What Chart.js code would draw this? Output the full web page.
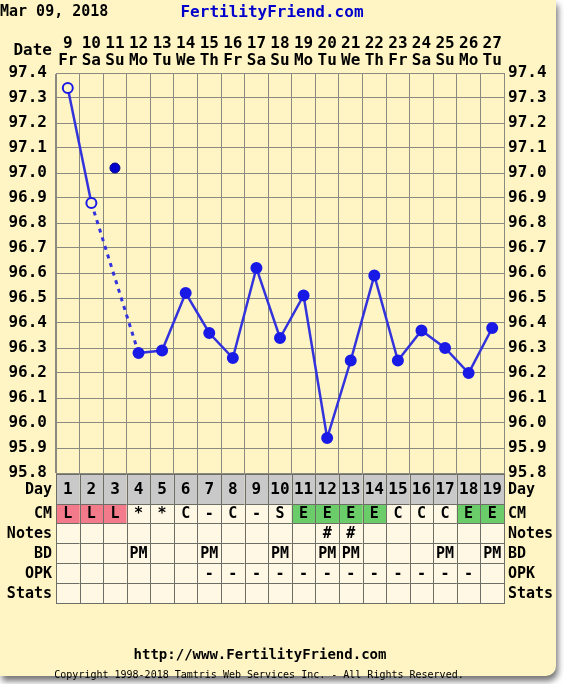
<!DOCTYPE html>
<html>
<head>
<meta charset="utf-8">
<script src="https://cdn.jsdelivr.net/npm/chart.js@4.4.0/dist/chart.umd.min.js"></script>
<style>
  body { margin: 0; background: #ffffff; }
  #fundo {
    position: absolute; left: 0; top: 0; width: 556px; height: 676px;
    background: #fff5c4; border-bottom-right-radius: 10px;
    box-shadow: 2px 5px 6px rgba(0,0,0,0.55);
  }
  #grafico { position: absolute; left: 0; top: 0; }
</style>
</head>
<body>
<div id="fundo"></div>
<canvas id="grafico" width="564" height="684"></canvas>
<script>
// dados
var datas = [9, 10, 11, 12, 13, 14, 15, 16, 17, 18, 19, 20, 21, 22, 23, 24, 25, 26, 27]
var diasSemana = ['Fr','Sa','Su','Mo','Tu','We','Th','Fr','Sa','Su','Mo','Tu','We','Th','Fr','Sa','Su','Mo','Tu']
var diasCiclo = [1, 2, 3, 4, 5, 6, 7, 8, 9, 10, 11, 12, 13, 14, 15, 16, 17, 18, 19]
var temperaturas = [97.34, 96.88, null, 96.28, 96.29, 96.52, 96.36, 96.26, 96.62, 96.34, 96.51, 95.94, 96.25, 96.59, 96.25, 96.37, 96.30, 96.20, 96.38]
var temperaturaDescartada = [null, null, 97.02, null, null, null, null, null, null, null, null, null, null, null, null, null, null, null, null]
var muco = ['L','L','L','*','*','C','-','C','-','S','E','E','E','E','C','C','C','E','E']
var notas = ['','','','','','','','','','','','#','#','','','','','','']
var relacoes = ['','','','PM','','','PM','','','PM','','PM','PM','','','','PM','','PM']
var opk = ['','','','','','','-','-','-','-','-','-','-','-','-','-','-','-','']
var stats = ['','','','','','','','','','','','','','','','','','','']

var abertos = [0, 1]
var azul = '#1a1ae6'
var amarelo = '#fff5c4'
var cinzaGrade = '#8a8a80'

Chart.defaults.font.family = 'DejaVu Sans Mono'
Chart.defaults.font.weight = 'bold'
Chart.defaults.color = '#000'

function corCelulaMuco(v){
    if(v == 'L') return '#f27a8a'
    if(v == 'E') return '#6acd6a'
    return '#fff8e4'
}

// trecho pontilhado: do dia 2 ao dia 4, pulando o dia 3
function trechoPontilhado(c){
    return c.p0DataIndex == 1 || c.p0DataIndex == 2
}

var linhasTabela = [
    {nome: 'Day', topo: 474, altura: 30, valores: diasCiclo},
    {nome: 'CM', topo: 504, altura: 19, valores: muco},
    {nome: 'Notes', topo: 523, altura: 20, valores: notas},
    {nome: 'BD', topo: 543, altura: 20, valores: relacoes},
    {nome: 'OPK', topo: 563, altura: 20, valores: opk},
    {nome: 'Stats', topo: 583, altura: 20, valores: stats}
]

var pluginTabela = {
    id: 'tabela',
    afterDraw(chart){
        var ctx = chart.ctx
        var x = chart.scales.x
        var area = chart.chartArea
        var larg = (area.right - area.left) / diasCiclo.length
        ctx.save()
        ctx.textBaseline = 'middle'

        // cabeçalho
        ctx.font = 'bold 15px DejaVu Sans Mono'
        ctx.textAlign = 'left'
        ctx.fillStyle = '#000'
        ctx.fillText('Mar 09, 2018', 0, 12)
        ctx.font = 'bold 16px DejaVu Sans Mono'
        ctx.textAlign = 'center'
        ctx.fillStyle = '#0000cc'
        ctx.fillText('FertilityFriend.com', 272, 13)
        ctx.fillStyle = '#000'
        ctx.textAlign = 'right'
        ctx.fillText('Date', 52, 51)

        linhasTabela.forEach(function(linha, r){
            var meio = linha.topo + linha.altura / 2
            linha.valores.forEach(function(v, i){
                var cx = x.getPixelForValue(i)
                var x0 = cx - larg / 2
                if(r == 0) ctx.fillStyle = '#c9c9c9'
                else if(r == 1) ctx.fillStyle = corCelulaMuco(v)
                else ctx.fillStyle = '#fff8e4'
                ctx.fillRect(x0, linha.topo, larg, linha.altura)
                ctx.strokeStyle = '#6e6e66'
                ctx.lineWidth = 1
                ctx.strokeRect(Math.round(x0) + 0.5, linha.topo + 0.5, Math.round(larg), linha.altura)
                ctx.fillStyle = '#000'
                ctx.textAlign = 'center'
                ctx.font = r == 0 ? 'bold 16px DejaVu Sans Mono' : 'bold 15px DejaVu Sans Mono'
                ctx.fillText(String(v), cx, meio + 1)
            })
            ctx.font = 'bold 15px DejaVu Sans Mono'
            ctx.textAlign = 'right'
            ctx.fillText(linha.nome, 52, meio + 1)
            ctx.textAlign = 'left'
            ctx.fillText(linha.nome, 508, meio + 1)
        })

        // rodapé
        ctx.textAlign = 'center'
        ctx.font = 'bold 14px DejaVu Sans Mono'
        ctx.fillText('http://www.FertilityFriend.com', 260, 655)
        ctx.font = '10px DejaVu Sans Mono'
        ctx.fillText('Copyright 1998-2018 Tamtris Web Services Inc. - All Rights Reserved.', 259, 675)
        ctx.restore()
    }
}

var config = {
    type: 'line',
    data: {
        labels: datas.map(function(d, i){ return [String(d), diasSemana[i]] }),
        datasets: [{
            label: 'Temperatura',
            data: temperaturas,
            spanGaps: true,
            borderColor: '#3333dd',
            borderWidth: 2.5,
            pointRadius: 5,
            pointBorderWidth: 2,
            pointBorderColor: azul,
            pointBackgroundColor: temperaturas.map(function(t, i){ return abertos.includes(i) ? amarelo : azul }),
            segment: {
                borderDash: function(c){ return trechoPontilhado(c) ? [4, 5] : undefined },
                borderWidth: function(c){ return trechoPontilhado(c) ? 3 : undefined }
            }
        }, {
            label: 'Descartada',
            data: temperaturaDescartada,
            showLine: false,
            pointRadius: 5,
            pointBorderWidth: 1,
            pointBorderColor: '#00008a',
            pointBackgroundColor: '#0000cc'
        }]
    },
    options: {
        responsive: false,
        animation: false,
        devicePixelRatio: 1,
        layout: {padding: {top: 0, bottom: 211, left: 0, right: 0}},
        plugins: {legend: {display: false}, tooltip: {enabled: false}},
        scales: {
            x: {
                position: 'top',
                offset: true,
                grid: {offset: true, color: cinzaGrade, drawTicks: false},
                border: {color: cinzaGrade},
                ticks: {autoSkip: false, maxRotation: 0, padding: 4, font: {size: 16, weight: 'bold', lineHeight: 1.05}},
                afterFit: function(s){ s.height = 73 }
            },
            y: {
                position: 'left',
                min: 95.8,
                max: 97.4,
                grid: {color: cinzaGrade, drawTicks: false},
                border: {color: cinzaGrade},
                ticks: {stepSize: 0.1, padding: 9, font: {size: 16, weight: 'bold'},
                    callback: function(v){ return Number(v).toFixed(1) }},
                afterFit: function(s){ s.width = 56 }
            },
            y2: {
                position: 'right',
                min: 95.8,
                max: 97.4,
                grid: {display: false, drawTicks: false},
                border: {color: cinzaGrade},
                ticks: {stepSize: 0.1, padding: 4, font: {size: 16, weight: 'bold'},
                    callback: function(v){ return Number(v).toFixed(1) }},
                afterFit: function(s){ s.width = 60 }
            }
        }
    },
    plugins: [pluginTabela]
}

var myChart = new Chart(document.getElementById('grafico'), config)
</script>
</body>
</html>
